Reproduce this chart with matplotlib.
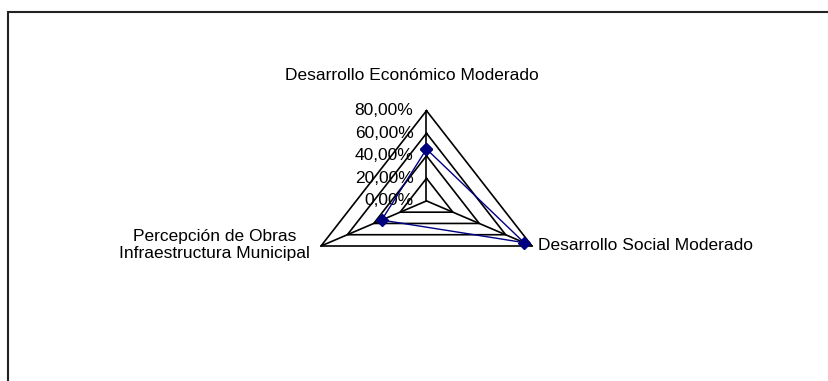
import numpy as np
import matplotlib
matplotlib.use("Agg")
import matplotlib.pyplot as plt
from matplotlib.patches import Rectangle

plt.rcParams['font.family'] = ['Liberation Sans', 'DejaVu Sans']

# data
categories = ['Desarrollo Económico Moderado',
              'Desarrollo Social Moderado',
              'Percepción de Obras\nInfraestructura Municipal']
values = [46, 74, 34]          # percent
rings = [0, 20, 40, 60, 80]
ring_labels = ['0,00%', '20,00%', '40,00%', '60,00%', '80,00%']

W, H = 829, 381
fs = 12.5
fig = plt.figure(figsize=(W / 100, H / 100), dpi=100)

# outer chart frame (runs off the right and bottom edges)
fig.patches.append(Rectangle((8 / W, -0.1), 1.0, 1 - 12 / H + 0.1,
                             transform=fig.transFigure, fill=False,
                             edgecolor='#222222', linewidth=1.5))

# radar area
ax = fig.add_axes([321 / W, 1 - 246 / H, 211 / W, 135.3 / H])
rmax = rings[-1]
ax.set_xlim(-rmax * np.cos(np.pi / 6), rmax * np.cos(np.pi / 6))
ax.set_ylim(-rmax / 2, rmax)
ax.axis('off')

angles = np.deg2rad([90, -30, 210])
ca, sa = np.cos(angles), np.sin(angles)

# grid triangles
for r in rings[1:]:
    xs = np.append(r * ca, r * ca[0])
    ys = np.append(r * sa, r * sa[0])
    ax.plot(xs, ys, color='black', lw=1.2, clip_on=False)

# spokes
for c, s in zip(ca, sa):
    ax.plot([0, rmax * c], [0, rmax * s], color='black', lw=1.2, clip_on=False)

# tick labels on the top axis
for r, lab in zip(rings, ring_labels):
    ax.annotate(lab, xy=(0, r), xytext=(-13, 0), textcoords='offset pixels',
                ha='right', va='center', fontsize=fs, color='black')

# data series
v = np.array(values, dtype=float)
xs = np.append(v * ca, v[0] * ca[0])
ys = np.append(v * sa, v[0] * sa[0])
ax.plot(xs, ys, color='#000080', lw=1.0, marker='D', markersize=6.5,
        clip_on=False, zorder=5)

# category labels
ax.annotate(categories[0], xy=(0, rmax), xytext=(-15, 35),
            textcoords='offset pixels', ha='center', va='center', fontsize=fs)
ax.annotate(categories[1], xy=(rmax * ca[1], rmax * sa[1]), xytext=(6, 0),
            textcoords='offset pixels', ha='left', va='center', fontsize=fs)
ax.annotate(categories[2], xy=(rmax * ca[2], rmax * sa[2]), xytext=(-11, 1),
            textcoords='offset pixels', ha='right', va='center',
            multialignment='center', fontsize=fs, linespacing=1.1)

fig.savefig('out.png', dpi=100)
